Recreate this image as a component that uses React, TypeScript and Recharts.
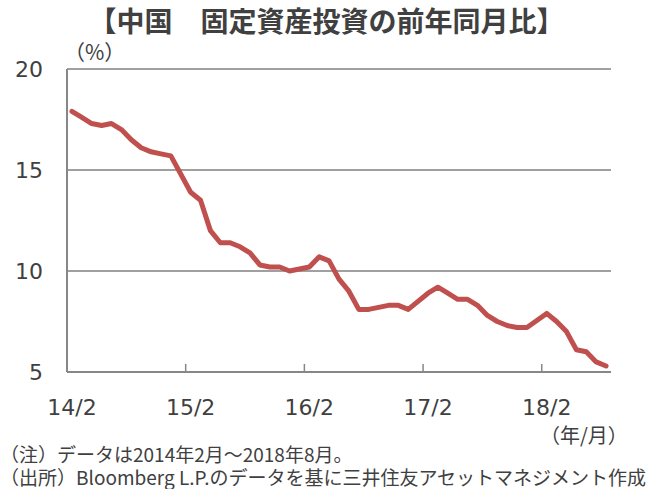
import React from 'react';
import { LineChart, Line, XAxis, YAxis, CartesianGrid, ReferenceLine } from 'recharts';

const months = [
  '14/2','14/3','14/4','14/5','14/6','14/7','14/8','14/9','14/10','14/11','14/12',
  '15/1','15/2','15/3','15/4','15/5','15/6','15/7','15/8','15/9','15/10','15/11','15/12',
  '16/1','16/2','16/3','16/4','16/5','16/6','16/7','16/8','16/9','16/10','16/11','16/12',
  '17/1','17/2','17/3','17/4','17/5','17/6','17/7','17/8','17/9','17/10','17/11','17/12',
  '18/1','18/2','18/3','18/4','18/5','18/6','18/7','18/8',
];

const faiYoY: (number | null)[] = [
  17.9, 17.6, 17.3, 17.2, 17.3, 17.0, 16.5, 16.1, 15.9, 15.8, 15.7,
  null, 13.9, 13.5, 12.0, 11.4, 11.4, 11.2, 10.9, 10.3, 10.2, 10.2, 10.0,
  null, 10.2, 10.7, 10.5, 9.6, 9.0, 8.1, 8.1, 8.2, 8.3, 8.3, 8.1,
  null, 8.9, 9.2, 8.9, 8.6, 8.6, 8.3, 7.8, 7.5, 7.3, 7.2, 7.2,
  null, 7.9, 7.5, 7.0, 6.1, 6.0, 5.5, 5.3,
];

const yTicks = [5, 10, 15, 20];
const labelTicks = [0, 12, 24, 36, 48];
const markTicks = [11.5, 23.5, 35.5, 47.5];
const markLength = 0.4;

const data = months.map((m, i) => ({ idx: i, month: m, value: faiYoY[i] }));

const textColor = '#404040';
const axisColor = '#878787';
const jpFont = '"Noto Sans CJK JP", "Noto Sans", sans-serif';
const numFont = '"DejaVu Sans", Verdana, sans-serif';

export default function App() {
  return (
    <div style={{ position: 'absolute', left: 0, top: 0, width: 653, height: 489, background: '#fff', overflow: 'hidden' }}>
      <div style={{ position: 'absolute', left: 0, top: 2, width: 653, textAlign: 'center', fontFamily: jpFont, fontWeight: 700, fontSize: 28, color: textColor, lineHeight: '36px' }}>
        【中国　固定資産投資の前年同月比】
      </div>
      <LineChart width={653} height={489} data={data} margin={{ top: 69, right: 42, bottom: 77, left: 0 }}>
        <CartesianGrid yAxisId="left" xAxisId="labels" horizontal vertical={false} stroke="#a0a0a0" strokeWidth={2} />
        <XAxis
          xAxisId="labels"
          dataKey="idx"
          type="number"
          domain={[-0.5, 54.5]}
          ticks={labelTicks}
          tickFormatter={(v: number) => months[v]}
          interval={0}
          tickLine={false}
          tickSize={0}
          tickMargin={27}
          height={40}
          axisLine={{ stroke: axisColor, strokeWidth: 2 }}
          tick={{ fill: textColor, fontSize: 22, fontFamily: numFont }}
        />
        <YAxis
          yAxisId="left"
          domain={[5, 20]}
          ticks={yTicks}
          interval={0}
          width={67}
          tickLine={false}
          tickSize={0}
          tickMargin={24}
          axisLine={{ stroke: axisColor, strokeWidth: 2 }}
          tick={{ fill: textColor, fontSize: 22, fontFamily: numFont }}
        />
        <YAxis
          yAxisId="right"
          orientation="right"
          domain={[5, 20]}
          ticks={yTicks}
          width={0}
          tick={false}
          tickLine={false}
          axisLine={{ stroke: axisColor, strokeWidth: 2 }}
        />
        {markTicks.map((t) => (
          <ReferenceLine
            key={t}
            xAxisId="labels"
            yAxisId="left"
            segment={[{ x: t, y: 5 }, { x: t, y: 5 + markLength }]}
            stroke={axisColor}
            strokeWidth={1.5}
          />
        ))}
        <Line
          xAxisId="labels"
          yAxisId="left"
          dataKey="value"
          type="linear"
          stroke="#C0504D"
          strokeWidth={5}
          strokeLinejoin="round"
          strokeLinecap="round"
          dot={false}
          activeDot={false}
          connectNulls
          isAnimationActive={false}
        />
      </LineChart>
      <div style={{ position: 'absolute', left: 64, top: 38, fontFamily: jpFont, fontSize: 21, color: textColor, lineHeight: '26px', whiteSpace: 'nowrap' }}>
        （%）
      </div>
      <div style={{ position: 'absolute', left: 540, top: 422, fontFamily: jpFont, fontSize: 20, color: textColor, lineHeight: '26px', whiteSpace: 'nowrap' }}>
        （年/月）
      </div>
      <div style={{ position: 'absolute', left: 0, top: 442, fontFamily: jpFont, fontSize: 19, color: textColor, lineHeight: '23px', whiteSpace: 'nowrap' }}>
        （注）データは2014年2月～2018年8月。
        <br />
        （出所）Bloomberg L.P.のデータを基に三井住友アセットマネジメント作成
      </div>
    </div>
  );
}
